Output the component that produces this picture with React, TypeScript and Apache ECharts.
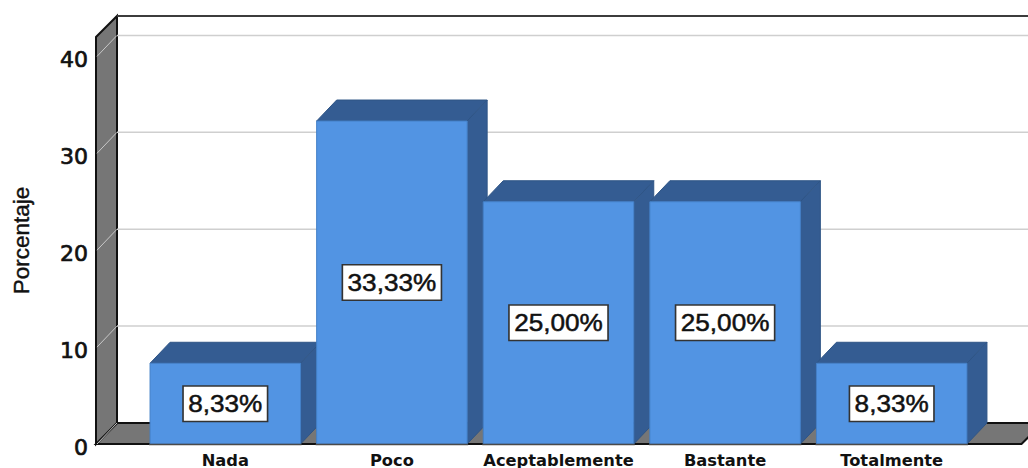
import React, { useEffect, useRef } from "react";
import * as echarts from "echarts";

const categories = ["Nada", "Poco", "Aceptablemente", "Bastante", "Totalmente"];
const percentages = [8.33, 33.33, 25.0, 25.0, 8.33];
const yTicks = [0, 10, 20, 30, 40];
const yAxisTitle = "Porcentaje";

const DEPTH = 21;
const BAR_DEPTH_X = 20;
const WALL_OFFSET = 46;
const BAR_WIDTH = 150.5;
const FONT = '"Liberation Sans", Arial, sans-serif';
const WIDE_FONT = '"DejaVu Sans", sans-serif';

const frameItem = (params: any, api: any) => {
  const cs = params.coordSys;
  const left = cs.x - WALL_OFFSET;
  const right = cs.x + cs.width + WALL_OFFSET + 0.5;
  const bottom = cs.y + cs.height;
  const top = cs.y;
  const children: any[] = [];
  const wall = { fill: "#767676", stroke: "#111111", lineWidth: 2 };
  children.push({
    type: "polygon",
    shape: { points: [[left, bottom], [left + DEPTH, bottom - DEPTH], [right + DEPTH, bottom - DEPTH], [right, bottom]] },
    style: wall,
  });
  children.push({
    type: "polygon",
    shape: { points: [[left, top], [left + DEPTH, top - DEPTH], [left + DEPTH, bottom - DEPTH], [left, bottom]] },
    style: wall,
  });
  yTicks.forEach((t) => {
    const y = api.coord([0, t])[1];
    children.push({
      type: "line",
      shape: { x1: left + 1, y1: y, x2: left + DEPTH, y2: y - DEPTH },
      style: { stroke: "#c8c8c8", lineWidth: 1 },
    });
    if (t > 0) {
      children.push({
        type: "line",
        shape: { x1: left + DEPTH, y1: y - DEPTH, x2: right + DEPTH, y2: y - DEPTH },
        style: { stroke: "#cfcfcf", lineWidth: 1.5 },
      });
    }
  });
  children.push({
    type: "line",
    shape: { x1: left + DEPTH, y1: top - DEPTH, x2: right + DEPTH, y2: top - DEPTH },
    style: { stroke: "#3c3c3c", lineWidth: 2 },
  });
  return { type: "group", children };
};

const barItem = (_params: any, api: any) => {
  const idx = api.value(0);
  const val = api.value(1);
  const [cx, yTop] = api.coord([idx, val]);
  const yBase = api.coord([idx, 0])[1];
  const x0 = cx - BAR_WIDTH / 2;
  const x1 = cx + BAR_WIDTH / 2;
  const side = { fill: "#345C92", stroke: "#2f5586", lineWidth: 1 };
  return {
    type: "group",
    children: [
      {
        type: "polygon",
        shape: { points: [[x0, yTop], [x0 + BAR_DEPTH_X, yTop - DEPTH], [x1 + BAR_DEPTH_X, yTop - DEPTH], [x1, yTop]] },
        style: side,
      },
      {
        type: "polygon",
        shape: { points: [[x1, yTop], [x1 + BAR_DEPTH_X, yTop - DEPTH], [x1 + BAR_DEPTH_X, yBase - DEPTH], [x1, yBase]] },
        style: side,
      },
      {
        type: "rect",
        shape: { x: x0, y: yTop, width: BAR_WIDTH, height: yBase - yTop },
        style: { fill: "#5294E3", stroke: "#4480c8", lineWidth: 1 },
      },
      {
        type: "line",
        shape: { x1: x0 - 1, y1: yBase + 0.5, x2: x1 + 1, y2: yBase + 0.5 },
        style: { stroke: "#4a4a4a", lineWidth: 1.5 },
      },
      {
        type: "text",
        x: cx,
        y: (yTop + yBase) / 2,
        scaleX: 1.09,
        style: {
          x: 0,
          y: 0,
          text: val.toFixed(2).replace(".", ",") + "%",
          align: "center",
          verticalAlign: "middle",
          fill: "#111111",
          font: `24px ${FONT}`,
          stroke: "#111111",
          lineWidth: 0.5,
          backgroundColor: "#ffffff",
          borderColor: "#333333",
          borderWidth: 1.5,
          padding: [5, 4, 5, 4],
        },
      },
    ],
  };
};

export default function App() {
  const ref = useRef<HTMLDivElement>(null);
  useEffect(() => {
    document.body.style.margin = "0";
    const chart = echarts.init(ref.current!, null, { renderer: "svg" });
    chart.setOption({
      animation: false,
      backgroundColor: "#ffffff",
      grid: { left: 142, right: 53, top: 37, bottom: 21.5 },
      xAxis: {
        type: "category",
        data: categories,
        axisLine: { show: false },
        axisTick: { show: false },
        axisLabel: { color: "#111111", fontFamily: WIDE_FONT, fontWeight: "bold", fontSize: 16.3, margin: 8, interval: 0 },
      },
      yAxis: {
        type: "value",
        min: 0,
        max: 42,
        interval: 10,
        offset: WALL_OFFSET,
        splitLine: { show: false },
        axisLine: { show: false },
        axisTick: { show: false },
        axisLabel: {
          color: "#111111",
          fontFamily: WIDE_FONT,
          fontSize: 22,
          margin: 8,
          showMaxLabel: false,
          verticalAlign: "top",
          lineHeight: 7,
          textBorderColor: "#111111",
          textBorderWidth: 0.7,
        },
        name: yAxisTitle,
        nameLocation: "middle",
        nameGap: 63,
        nameRotate: 90,
        nameTextStyle: { color: "#111111", fontFamily: FONT, fontSize: 22.5, textBorderColor: "#111111", textBorderWidth: 0.4 },
      },
      series: [
        { type: "custom", silent: true, z: 1, renderItem: frameItem, data: [[0, 0]], clip: false },
        {
          type: "custom",
          silent: true,
          z: 2,
          renderItem: barItem,
          data: percentages.map((v, i) => [i, v]),
          encode: { x: 0, y: 1 },
          clip: false,
        },
      ],
    });
    return () => chart.dispose();
  }, []);
  return <div ref={ref} style={{ width: 1028, height: 468 }} />;
}
